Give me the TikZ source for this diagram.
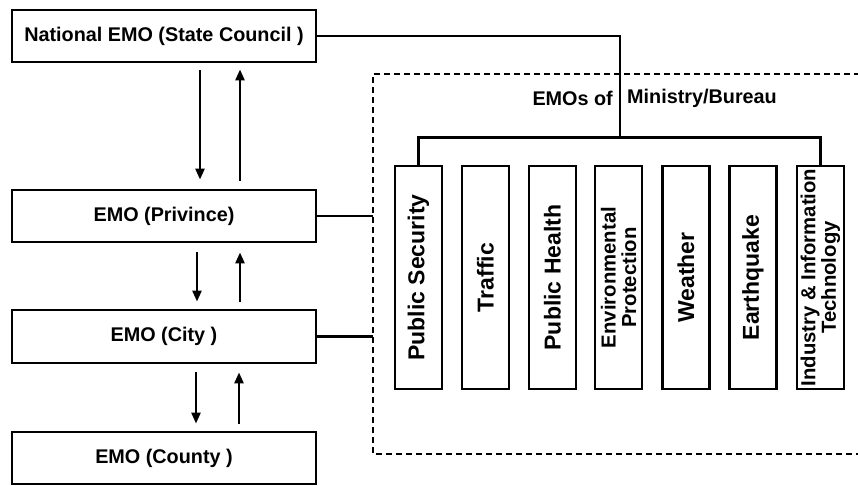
\documentclass[tikz,border=0pt]{standalone}
\usepackage{fontspec}
\setmainfont{Liberation Sans}
\usetikzlibrary{arrows.meta,calc}
\begin{document}
\begin{tikzpicture}[x=1pt,y=-1pt,
  lbox/.style={draw,line width=2.8pt,minimum width=304pt,minimum height=52pt,inner sep=0pt,font=\fontsize{19.8}{22}\bfseries\selectfont},
  mbox/.style={draw,line width=2.8pt,rotate=90,minimum width=223pt,minimum height=47pt,inner sep=0pt,align=center},
  mtxt/.style={font=\fontsize{23}{24}\bfseries\selectfont},
  stxt/.style={font=\fontsize{20.3}{20.5}\bfseries\selectfont},
  conn/.style={line width=2.5pt},
  arr/.style={line width=2.5pt,-{Triangle[length=11pt,width=9pt]}},
  dashbox/.style={line width=1.8pt,dash pattern=on 6pt off 4pt},
  lab/.style={font=\fontsize{19.8}{22}\bfseries\selectfont,inner sep=0pt}]
\useasboundingbox (0,0) rectangle (858,486);
\clip (0,0) rectangle (858,486);

% left hierarchy
\node[lbox] (nat) at (164,36) {National EMO (State Council )};
\node[lbox] (prov) at (164,216) {EMO (Privince)};
\node[lbox,minimum height=53pt] (city) at (164,336.5) {EMO (City )};
\node[lbox] (county) at (164,458) {EMO (County )};

\draw[arr] ([xshift=36pt,yshift=-7pt]nat.south) -- ([xshift=36pt,yshift=9pt]prov.north);
\draw[arr] ([xshift=76pt,yshift=8pt]prov.north) -- ([xshift=76pt,yshift=-6pt]nat.south);
\draw[arr] ([xshift=33pt,yshift=-9pt]prov.south) -- ([xshift=33pt,yshift=7pt]city.north);
\draw[arr] ([xshift=76pt,yshift=7pt]city.north) -- ([xshift=76pt,yshift=-9pt]prov.south);
\draw[arr] ([xshift=32pt,yshift=-8pt]city.south) -- ([xshift=32pt,yshift=7pt]county.north);
\draw[arr] ([xshift=75pt,yshift=7pt]county.north) -- ([xshift=75pt,yshift=-8pt]city.south);

% dashed group
\coordinate (dl) at (373,0);
\draw[dashbox] (880,74) -- (373,74) -- (373,454) -- (880,454);
\draw[conn] (prov.east) -- (prov.east -| dl);
\draw[conn] (city.east) -- (city.east -| dl);

\node[lab,anchor=east] (lab1) at (613,98) {EMOs of};
\node[lab,anchor=west] (lab2) at (627,98) {Ministry/Bureau};

% ministry boxes
\node[mbox,mtxt] (m1) at (418.5,277.5) {Public Security};
\node[mbox,mtxt] (m2) at (485.5,277.5) {Traffic};
\node[mbox,mtxt] (m3) at (552.5,277.5) {Public Health};
\node[mbox,stxt] (m4) at (618.5,277.5) {Environmental\\Protection};
\node[mbox,mtxt] (m5) at (686,277.5) {Weather};
\node[mbox,mtxt] (m6) at (753,277.5) {Earthquake};
\node[mbox,stxt] (m7) at (820.5,277.5) {Industry \& Information\\Technology};

\coordinate (bus) at (620,139);
\draw[conn] (nat.east) -| (bus);
\draw[conn] (m1.east) -- ++(0,-27) -| (m7.east);
\end{tikzpicture}
\end{document}
